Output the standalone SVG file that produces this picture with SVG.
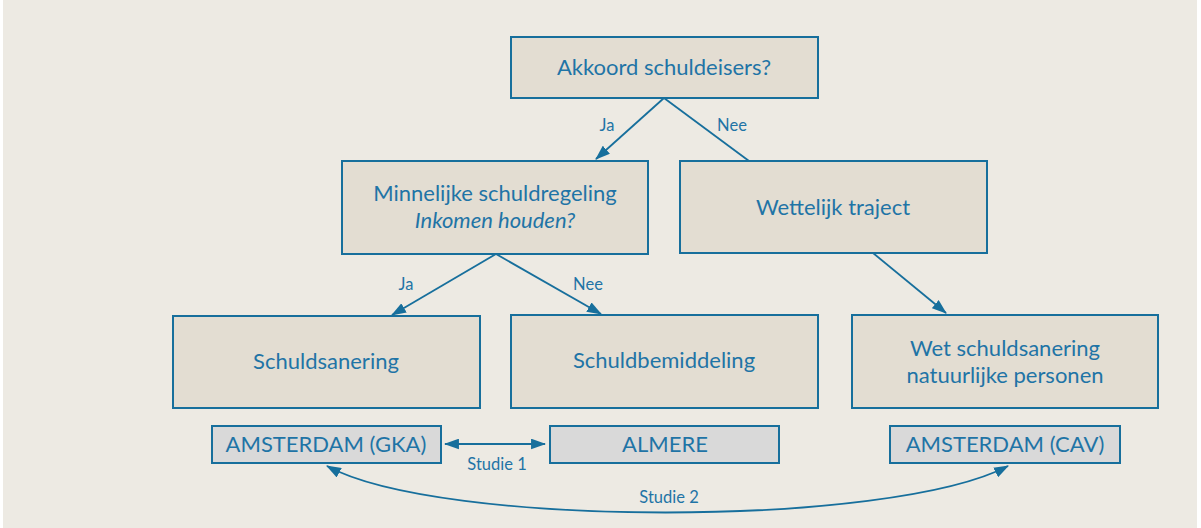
<svg xmlns="http://www.w3.org/2000/svg" width="1201" height="528" viewBox="0 0 1201 528">
<defs>
<style>
.box{fill:#e3ddd2;stroke:#176f9c;stroke-width:2}
.sbox{fill:#d9d9d9;stroke:#176f9c;stroke-width:2}
.t{font-family:Lato,"Liberation Sans",sans-serif;font-size:22px;fill:#1f74a6;text-anchor:middle}
.c{font-family:Lato,"Liberation Sans",sans-serif;font-size:22px;fill:#1f74a6;text-anchor:middle}
.lbl{font-family:Lato,"Liberation Sans",sans-serif;font-size:16.5px;fill:#1f74a6;text-anchor:middle}
.ln{fill:none;stroke:#176f9c;stroke-width:1.8}
</style>
<marker id="ahl" viewBox="0 0 14 10" refX="13" refY="5" markerWidth="15" markerHeight="11" markerUnits="userSpaceOnUse" orient="auto-start-reverse">
<path d="M0,0 L14,5 L0,10 z" fill="#176f9c"/>
</marker>
</defs>
<rect x="0" y="0" width="1201" height="528" fill="#ffffff"/>
<rect x="3" y="0" width="1194" height="528" fill="#edeae3"/>

<g id="connectors">
<line class="ln" x1="664" y1="98" x2="596" y2="159" marker-end="url(#ahl)"/>
<line class="ln" x1="664" y1="98" x2="749" y2="161"/>
<line class="ln" x1="496" y1="254" x2="392" y2="315" marker-end="url(#ahl)"/>
<line class="ln" x1="496" y1="254" x2="601" y2="314" marker-end="url(#ahl)"/>
<line class="ln" x1="873" y1="253" x2="946" y2="313" marker-end="url(#ahl)"/>
<line class="ln" x1="445" y1="444" x2="545" y2="444" marker-start="url(#ahl)" marker-end="url(#ahl)"/>
<path class="ln" d="M 327 466 C 440 528, 890 528, 1008 466" marker-start="url(#ahl)" marker-end="url(#ahl)"/>
<text class="lbl" x="607" y="131">Ja</text>
<text class="lbl" x="732" y="131">Nee</text>
<text class="lbl" x="406" y="290">Ja</text>
<text class="lbl" x="588" y="290">Nee</text>
<text class="lbl" x="497" y="470">Studie 1</text>
<text class="lbl" x="669" y="503">Studie 2</text>
</g>

<g id="n-akkoord">
<rect class="box" x="511" y="37" width="307" height="61"/>
<text class="t" x="664" y="75">Akkoord schuldeisers?</text>
</g>
<g id="n-minnelijk">
<rect class="box" x="342" y="161" width="306" height="93"/>
<text class="t" x="495" y="201">Minnelijke schuldregeling</text>
<text class="t" x="495" y="228" font-style="italic">Inkomen houden?</text>
</g>
<g id="n-wettelijk">
<rect class="box" x="680" y="161" width="307" height="92"/>
<text class="t" x="833" y="215">Wettelijk traject</text>
</g>
<g id="n-schuldsanering">
<rect class="box" x="173" y="316" width="307" height="92"/>
<text class="t" x="326" y="369">Schuldsanering</text>
</g>
<g id="n-schuldbemiddeling">
<rect class="box" x="511" y="315" width="307" height="93"/>
<text class="t" x="664" y="368">Schuldbemiddeling</text>
</g>
<g id="n-wsnp">
<rect class="box" x="852" y="315" width="306" height="93"/>
<text class="t" x="1005" y="356">Wet schuldsanering</text>
<text class="t" x="1005" y="383">natuurlijke personen</text>
</g>
<g id="n-gka">
<rect class="sbox" x="212" y="426" width="229" height="37"/>
<text class="c" x="326" y="452">AMSTERDAM (GKA)</text>
</g>
<g id="n-almere">
<rect class="sbox" x="550" y="426" width="229" height="37"/>
<text class="c" x="665" y="452">ALMERE</text>
</g>
<g id="n-cav">
<rect class="sbox" x="890" y="426" width="230" height="37"/>
<text class="c" x="1005" y="452">AMSTERDAM (CAV)</text>
</g>
</svg>
